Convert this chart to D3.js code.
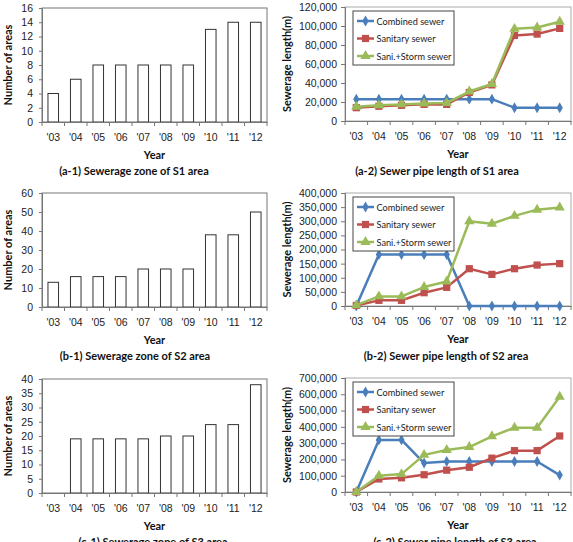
<!DOCTYPE html>
<html>
<head>
<meta charset="utf-8">
<script src="https://cdn.jsdelivr.net/npm/d3@7"></script>
<style>
  body { margin: 0; background: #fff; }
  svg { display: block; font-family: Lato, "Open Sans", sans-serif; }
  .tick text { fill: #222; font-size: 10.5px; }
  .ttl { font-weight: bold; font-size: 11px; fill: #111; }
</style>
</head>
<body>
<script>
const years = ["'03", "'04", "'05", "'06", "'07", "'08", "'09", "'10", "'11", "'12"];

// number of sewerage zones
const zonesS1 = [4, 6, 8, 8, 8, 8, 8, 13, 14, 14];
const zonesS2 = [13, 16, 16, 16, 20, 20, 20, 38, 38, 50];
const zonesS3 = [0, 19, 19, 19, 19, 20, 20, 24, 24, 38];

// sewer pipe length (m)
const combinedS1 = [23000, 23000, 23000, 23000, 23000, 23000, 23000, 14000, 14000, 14000];
const sanitaryS1 = [14000, 15500, 16500, 17500, 17500, 30000, 38000, 90000, 91500, 97500];
const saniStormS1 = [15000, 16500, 17500, 18500, 19000, 31000, 39000, 97000, 98500, 104500];

const combinedS2 = [0, 182000, 182000, 182000, 182000, 0, 0, 0, 0, 0];
const sanitaryS2 = [2000, 20000, 20000, 47000, 66000, 132000, 112000, 132000, 145000, 150000];
const saniStormS2 = [3000, 34000, 34000, 67000, 87000, 300000, 291000, 319000, 341000, 349000];

const combinedS3 = [0, 320000, 320000, 178000, 187000, 187000, 187000, 187000, 187000, 104000];
const sanitaryS3 = [0, 80000, 87000, 106000, 134000, 152000, 208000, 254000, 254000, 344000];
const saniStormS3 = [0, 100000, 110000, 228000, 258000, 276000, 342000, 395000, 395000, 585000];

const seriesNames = ["Combined sewer", "Sanitary sewer", "Sani.+Storm sewer"];
const seriesColors = ["#4a7ebb", "#c0504d", "#9bbb59"];

const svg = d3.select("body").append("svg")
    .attr("width", 573)
    .attr("height", 542);

// bar chart panel
function drawBar(box, values, yMax, yStep, caption, captionX) {
    let x = d3.scaleBand().domain(years).range([box.x0, box.x1]);
    let y = d3.scaleLinear().domain([0, yMax]).range([box.y1, box.y0]);
    let g = svg.append("g");

    g.append("rect")
        .attr("x", box.x0).attr("y", box.y0)
        .attr("width", box.x1 - box.x0).attr("height", box.y1 - box.y0)
        .attr("fill", "none").attr("stroke", "#777");

    let bw = x.bandwidth() * 0.47;
    g.selectAll(".bar")
        .data(values.map((v, i) => ({yr: years[i], v: v})).filter(d => d.v > 0))
        .enter().append("rect")
        .attr("x", d => x(d.yr) + (x.bandwidth() - bw) / 2)
        .attr("y", d => y(d.v))
        .attr("width", bw)
        .attr("height", d => y(0) - y(d.v))
        .attr("fill", "#fff")
        .attr("stroke", "#333")
        .attr("stroke-width", 1);

    let ya = g.append("g")
        .attr("transform", "translate(" + box.x0 + ",0)")
        .call(d3.axisLeft(y).tickValues(d3.range(0, yMax + 1, yStep)).tickSize(3).tickPadding(6));
    ya.select(".domain").attr("stroke", "#777");
    ya.selectAll(".tick line").attr("stroke", "#777");

    let xa = g.append("g")
        .attr("transform", "translate(0," + box.y1 + ")")
        .call(d3.axisBottom(x).tickSize(0).tickPadding(12));
    xa.select(".domain").attr("stroke", "#777");
    // boundary tick marks
    g.selectAll(".btick")
        .data(d3.range(0, years.length + 1))
        .enter().append("line")
        .attr("x1", i => box.x0 + i * x.step()).attr("x2", i => box.x0 + i * x.step())
        .attr("y1", box.y1).attr("y2", box.y1 + 4)
        .attr("stroke", "#777");

    g.append("text").attr("class", "ttl")
        .attr("transform", "translate(" + (box.x0 - 30) + "," + ((box.y0 + box.y1) / 2) + ") rotate(-90)")
        .attr("text-anchor", "middle")
        .text("Number of areas");
    g.append("text").attr("class", "ttl")
        .attr("x", (box.x0 + box.x1) / 2).attr("y", box.y1 + 37)
        .attr("text-anchor", "middle").text("Year");
    g.append("text").attr("class", "ttl")
        .attr("x", captionX).attr("y", box.y1 + 53)
        .attr("text-anchor", "middle").text(caption);
}

// line chart panel
function drawLine(box, series, yMax, yStep, caption, captionX) {
    let x = d3.scaleBand().domain(years).range([box.x0, box.x1]);
    let y = d3.scaleLinear().domain([0, yMax]).range([box.y1, box.y0]);
    let g = svg.append("g");

    g.append("rect")
        .attr("x", box.x0).attr("y", box.y0)
        .attr("width", box.x1 - box.x0).attr("height", box.y1 - box.y0)
        .attr("fill", "none").attr("stroke", "#aaa");

    let ya = g.append("g")
        .attr("transform", "translate(" + box.x0 + ",0)")
        .call(d3.axisLeft(y).tickValues(d3.range(0, yMax + 1, yStep)).tickFormat(d3.format(",")).tickSize(4).tickPadding(4));
    ya.select(".domain").attr("stroke", "#777");
    ya.selectAll(".tick line").attr("stroke", "#777");

    let xa = g.append("g")
        .attr("transform", "translate(0," + box.y1 + ")")
        .call(d3.axisBottom(x).tickSize(0).tickPadding(12));
    xa.select(".domain").attr("stroke", "#777");
    g.selectAll(".btick")
        .data(d3.range(0, years.length + 1))
        .enter().append("line")
        .attr("x1", i => box.x0 + i * x.step()).attr("x2", i => box.x0 + i * x.step())
        .attr("y1", box.y1).attr("y2", box.y1 + 4)
        .attr("stroke", "#777");

    let cx = i => x(years[i]) + x.bandwidth() / 2;
    let line = d3.line().x((d, i) => cx(i)).y(d => y(d));
    let shapes = [d3.symbolDiamond, d3.symbolSquare, d3.symbolTriangle];
    let sizes = [34, 52, 46];

    series.forEach((vals, k) => {
        g.append("path")
            .datum(vals)
            .attr("d", line)
            .attr("fill", "none")
            .attr("stroke", seriesColors[k])
            .attr("stroke-width", 2.5)
            .attr("stroke-linejoin", "round");
        g.selectAll(".m" + k)
            .data(vals)
            .enter().append("path")
            .attr("transform", (d, i) => "translate(" + cx(i) + "," + y(d) + ")")
            .attr("d", d3.symbol().type(shapes[k]).size(sizes[k]))
            .attr("fill", seriesColors[k]);
    });

    // legend
    let lx = box.x0 + 8, ly = box.y0 + 4;
    let lg = g.append("g").attr("transform", "translate(" + lx + "," + ly + ")");
    lg.append("rect")
        .attr("width", 101).attr("height", 54)
        .attr("fill", "#fff").attr("stroke", "#444");
    seriesNames.forEach((name, k) => {
        let yy = 10 + k * 17.5;
        lg.append("line")
            .attr("x1", 4).attr("x2", 21).attr("y1", yy).attr("y2", yy)
            .attr("stroke", seriesColors[k]).attr("stroke-width", 2.5);
        lg.append("path")
            .attr("transform", "translate(12.5," + yy + ")")
            .attr("d", d3.symbol().type(shapes[k]).size(sizes[k]))
            .attr("fill", seriesColors[k]);
        lg.append("text")
            .attr("x", 23.5).attr("y", yy + 3.5)
            .attr("font-size", "9.2px").attr("fill", "#222")
            .text(name);
    });

    g.append("text").attr("class", "ttl")
        .attr("transform", "translate(" + (box.x0 - 54) + "," + ((box.y0 + box.y1) / 2) + ") rotate(-90)")
        .attr("text-anchor", "middle")
        .text("Sewerage length(m)");
    g.append("text").attr("class", "ttl")
        .attr("x", (box.x0 + box.x1) / 2).attr("y", box.y1 + 37)
        .attr("text-anchor", "middle").text("Year");
    g.append("text").attr("class", "ttl")
        .attr("x", captionX).attr("y", box.y1 + 54)
        .attr("text-anchor", "middle").text(caption);
}

drawBar({x0: 42, x1: 267, y0: 8, y1: 122}, zonesS1, 16, 2, "(a-1) Sewerage zone of S1 area", 134);
drawBar({x0: 42, x1: 267, y0: 193, y1: 307}, zonesS2, 60, 10, "(b-1) Sewerage zone of S2 area", 135);
drawBar({x0: 42, x1: 267, y0: 379, y1: 493}, zonesS3, 40, 5, "(c-1) Sewerage zone of S3 area", 153);

drawLine({x0: 345, x1: 571, y0: 7, y1: 121}, [combinedS1, sanitaryS1, saniStormS1], 120000, 20000, "(a-2) Sewer pipe length of S1 area", 437);
drawLine({x0: 345, x1: 571, y0: 193, y1: 306}, [combinedS2, sanitaryS2, saniStormS2], 400000, 50000, "(b-2) Sewer pipe length of S2 area", 446);
drawLine({x0: 345, x1: 571, y0: 378, y1: 492}, [combinedS3, sanitaryS3, saniStormS3], 700000, 100000, "(c-2) Sewer pipe length of S3 area", 455);
</script>
</body>
</html>
